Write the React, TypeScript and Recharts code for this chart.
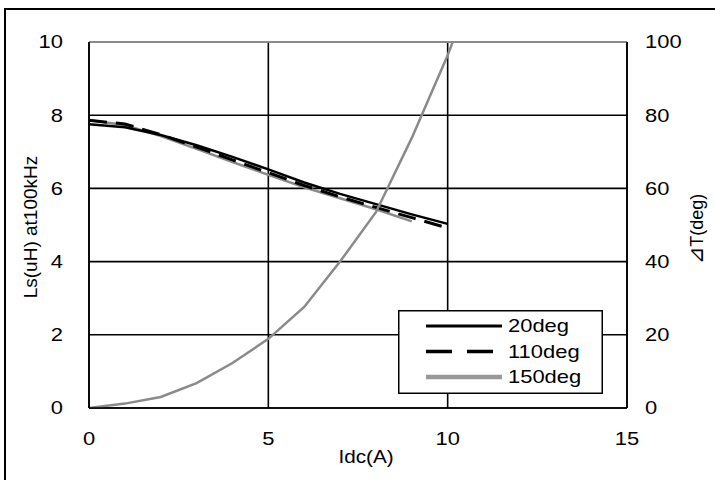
import React from 'react';
import {
  LineChart,
  Line,
  XAxis,
  YAxis,
  CartesianGrid,
  Legend,
  ReferenceLine,
  Label
} from 'recharts';

// values
const idcValues = [0, 1, 2, 3, 4, 5, 6, 7, 8, 9, 10, 11];
const ls20 = [7.75, 7.67, 7.46, 7.18, 6.86, 6.52, 6.16, 5.85, 5.57, 5.29, 5.03, null];
const ls110 = [7.86, 7.76, 7.47, 7.13, 6.78, 6.43, 6.08, 5.77, 5.48, 5.2, 4.92, null];
const ls150 = [7.86, 7.73, 7.43, 7.08, 6.72, 6.37, 6.03, 5.73, 5.43, 5.1, null, null];
const deltaT = [0, 1.2, 3, 6.8, 12.3, 18.9, 27.6, 40, 53.5, 73.8, 96.4, 122];

const xTicks = [0, 5, 10, 15];
const lsTicks = [0, 2, 4, 6, 8, 10];
const tTicks = [0, 20, 40, 60, 80, 100];

const data = idcValues.map((idc, i) => ({
  idc,
  l20: ls20[i],
  l110: ls110[i],
  l150: ls150[i],
  dT: deltaT[i]
}));

const FONT = '"Liberation Sans", Arial, sans-serif';
const STRETCH = 1.22;
const GREY = '#8a8a8a';

const legendStyles: Record<string, { stroke: string; width: number; dash?: string }> = {
  l20: { stroke: '#000', width: 3 },
  l110: { stroke: '#000', width: 3.5, dash: '26 15' },
  l150: { stroke: '#999', width: 4.5 }
};

function StretchTick(props: any) {
  const { x, y, payload, textAnchor, verticalAnchor } = props;
  const dy = verticalAnchor === 'start' ? '0.71em' : '0.355em';
  return (
    <g transform={`translate(${x},${y}) scale(${STRETCH},1)`}>
      <text x={0} y={0} dy={dy} textAnchor={textAnchor} fontSize={18} fontFamily={FONT} fill="#000">
        {payload.value}
      </text>
    </g>
  );
}

function LegendBox(props: any) {
  const items = (props.payload || []).filter((p: any) => legendStyles[p.dataKey]);
  return (
    <svg width={205} height={84} style={{ display: 'block' }}>
      <rect x={0.75} y={0.75} width={203.5} height={82.5} fill="#fff" stroke="#000" strokeWidth={1.5} />
      {items.map((p: any, i: number) => {
        const s = legendStyles[p.dataKey];
        const cy = 16 + i * 25.5;
        return (
          <g key={p.dataKey}>
            <line x1={28} x2={104} y1={cy} y2={cy} stroke={s.stroke} strokeWidth={s.width} strokeDasharray={s.dash} />
            <g transform={`translate(110,${cy}) scale(${STRETCH},1)`}>
              <text x={0} y={0} dy="0.355em" fontSize={18} fontFamily={FONT} fill="#000">
                {p.value}
              </text>
            </g>
          </g>
        );
      })}
    </svg>
  );
}

export default function App() {
  return (
    <div style={{ position: 'absolute', left: 0, top: 0, width: 715, height: 480, overflow: 'hidden', background: '#fff' }}>
      <div
        style={{
          position: 'absolute',
          left: 4,
          top: 8,
          width: 740,
          height: 500,
          border: '2px solid #000',
          boxSizing: 'border-box'
        }}
      />
      <div style={{ position: 'absolute', left: 0, top: 0 }}>
        <LineChart width={715} height={480} data={data} margin={{ top: 42, right: 0, bottom: 0, left: 0 }}>
          <CartesianGrid yAxisId="ls" stroke="#000" strokeWidth={1.6} />
          <XAxis
            dataKey="idc"
            type="number"
            domain={[0, 15]}
            ticks={xTicks}
            height={72}
            tickSize={0}
            tickMargin={24}
            tickLine={false}
            axisLine={{ stroke: '#000', strokeWidth: 1.6 }}
            tick={<StretchTick />}
          >
            <Label
              content={(p: any) => {
                const vb = p.viewBox;
                const cx = vb.x + vb.width / 2 + 8;
                return (
                  <g transform={`translate(${cx},457) scale(1.15,1)`}>
                    <text x={0} y={0} dy="0.355em" textAnchor="middle" fontSize={18} fontFamily={FONT} fill="#000">
                      Idc(A)
                    </text>
                  </g>
                );
              }}
            />
          </XAxis>
          <YAxis
            yAxisId="ls"
            domain={[0, 10]}
            ticks={lsTicks}
            width={89}
            tickSize={0}
            tickMargin={26}
            tickLine={false}
            axisLine={{ stroke: '#000', strokeWidth: 1.6 }}
            tick={<StretchTick />}
          >
            <Label
              content={(p: any) => {
                const vb = p.viewBox;
                const x = vb.x + 30;
                const y = vb.y + vb.height / 2 + 2;
                return (
                  <text
                    x={x}
                    y={y}
                    dy="0.355em"
                    transform={`rotate(-90,${x},${y})`}
                    textAnchor="middle"
                    fontSize={19}
                    fontFamily={FONT}
                    fill="#000"
                  >
                    Ls(uH) at100kHz
                  </text>
                );
              }}
            />
          </YAxis>
          <YAxis
            yAxisId="t"
            orientation="right"
            domain={[0, 100]}
            ticks={tTicks}
            allowDataOverflow
            width={88}
            tickSize={0}
            tickMargin={18}
            tickLine={false}
            axisLine={{ stroke: '#000', strokeWidth: 1.6 }}
            tick={<StretchTick />}
          >
            <Label
              content={(p: any) => {
                const vb = p.viewBox;
                const x = vb.x + vb.width - 18;
                const y = vb.y + vb.height / 2 + 4;
                return (
                  <text
                    x={x}
                    y={y}
                    dy="0.355em"
                    transform={`rotate(-90,${x},${y})`}
                    textAnchor="middle"
                    fontSize={18}
                    fontFamily={FONT}
                    fill="#000"
                  >
                    <tspan fontFamily='"DejaVu Sans", sans-serif' fontSize={21}>⊿</tspan>
                    T(deg)
                  </text>
                );
              }}
            />
          </YAxis>
          <ReferenceLine yAxisId="ls" y={10} stroke={GREY} strokeWidth={2} />
          <Line
            yAxisId="ls"
            dataKey="l150"
            name="150deg"
            stroke={GREY}
            strokeWidth={2.5}
            dot={false}
            isAnimationActive={false}
          />
          <Line
            yAxisId="ls"
            dataKey="l20"
            name="20deg"
            stroke="#000"
            strokeWidth={2.5}
            dot={false}
            isAnimationActive={false}
          />
          <Line
            yAxisId="ls"
            dataKey="l110"
            name="110deg"
            stroke="#000"
            strokeWidth={3}
            strokeDasharray="18 9"
            dot={false}
            isAnimationActive={false}
          />
          <Line
            yAxisId="t"
            dataKey="dT"
            stroke={GREY}
            strokeWidth={2.5}
            dot={false}
            legendType="none"
            isAnimationActive={false}
          />
          <Legend
            layout="vertical"
            align="center"
            verticalAlign="middle"
            content={<LegendBox />}
            itemSorter={(item: any) => ['l20', 'l110', 'l150'].indexOf(item.dataKey)}
            wrapperStyle={{ left: 398, top: 310, width: 205, height: 84 }}
          />
        </LineChart>
      </div>
    </div>
  );
}
